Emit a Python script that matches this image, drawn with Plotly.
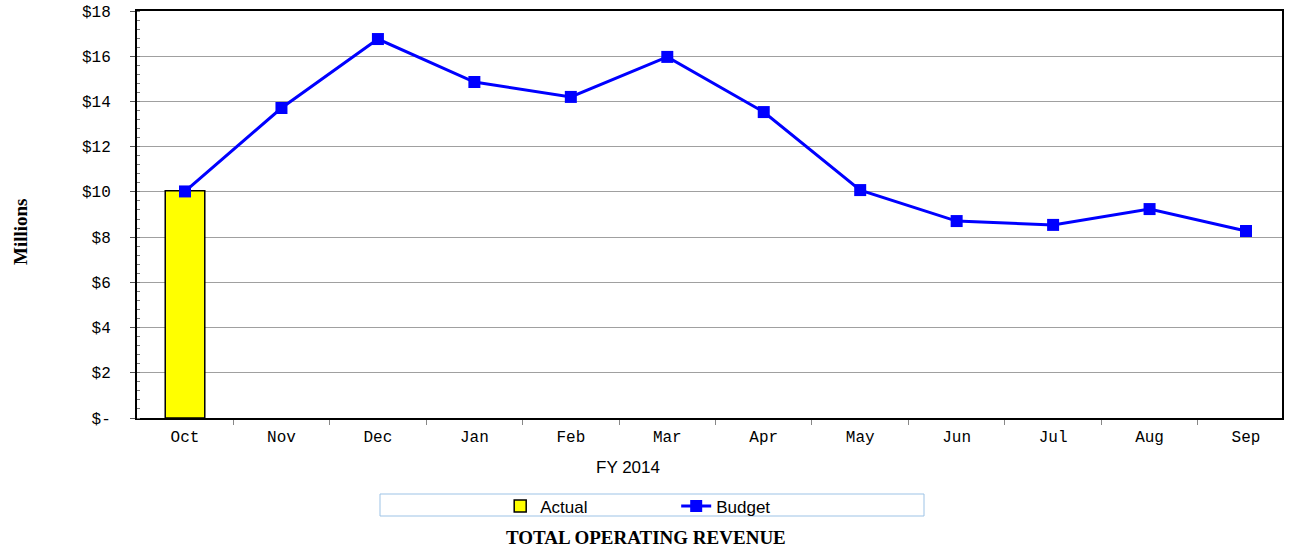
import plotly.graph_objects as go

months = ["Oct", "Nov", "Dec", "Jan", "Feb", "Mar", "Apr", "May", "Jun", "Jul", "Aug", "Sep"]
actual = [10.05, None, None, None, None, None, None, None, None, None, None, None]
budget = [10.02, 13.71, 16.76, 14.86, 14.20, 15.97, 13.53, 10.08, 8.71, 8.54, 9.24, 8.27]
y_tickvals = [0, 2, 4, 6, 8, 10, 12, 14, 16, 18]
y_ticktext = ["$-", "$2", "$4", "$6", "$8", "$10", "$12", "$14", "$16", "$18"]

fig = go.Figure()
fig.add_trace(go.Bar(
    x=months, y=actual, name="Actual", width=0.41,
    marker=dict(color="#FFFF00", line=dict(color="#000000", width=1.5)),
))
fig.add_trace(go.Scatter(
    x=months, y=budget, name="Budget", mode="lines+markers",
    line=dict(color="#0000FF", width=3),
    marker=dict(symbol="square", size=12, color="#0000FF"),
))

mono = "Liberation Mono, Courier New, monospace"
fig.update_layout(
    width=1296, height=548,
    margin=dict(l=137, r=14, t=11, b=130, autoexpand=False),
    paper_bgcolor="white", plot_bgcolor="white",
    showlegend=True,
    legend=dict(
        orientation="h", x=0.3172, y=-0.173, xanchor="left", yanchor="top",
        font=dict(family="Liberation Sans, Arial", size=17, color="#000"),
        entrywidth=131, bgcolor="rgba(0,0,0,0)", borderwidth=0,
        itemwidth=30,
    ),
    xaxis=dict(
        type="category", tickson="boundaries", ticks="outside", ticklen=5,
        tickcolor="#888", showgrid=False, automargin=False,
        showline=True, linecolor="#000", linewidth=2, mirror=True,
        tickfont=dict(family=mono, size=16, color="#000"),
        ticklabelstandoff=3,
        range=[-0.4977, 11.373],
    ),
    yaxis=dict(
        range=[0, 18], tickvals=y_tickvals, ticktext=y_ticktext,
        ticks="outside", ticklen=5, tickcolor="#555", automargin=False,
        showgrid=True, gridcolor="#A0A0A0", gridwidth=1,
        showline=True, linecolor="#000", linewidth=2, mirror=True,
        zeroline=False,
        tickfont=dict(family=mono, size=16, color="#000"),
        ticklabelstandoff=16,
        minor=dict(dtick=0.4, tick0=0, ticks="inside", ticklen=3, tickcolor="#777", showgrid=False),
    ),
    shapes=[dict(
        type="rect", xref="paper", yref="paper",
        x0=(380 - 137) / 1145, x1=(924 - 137) / 1145,
        y0=(418 - 494) / 407, y1=(418 - 516) / 407,
        line=dict(color="#9DC3E6", width=1), fillcolor="rgba(0,0,0,0)",
    )],
    annotations=[
        dict(text="FY 2014", xref="paper", yref="paper",
             x=(628 - 137) / 1145, y=(418 - 467) / 407, xanchor="center", yanchor="middle",
             showarrow=False, font=dict(family="Liberation Sans, Arial", size=17, color="#000")),
        dict(text="<b>TOTAL OPERATING REVENUE</b>", xref="paper", yref="paper",
             x=(646 - 137) / 1145, y=(418 - 537) / 407, xanchor="center", yanchor="middle",
             showarrow=False, font=dict(family="Liberation Serif, Times New Roman", size=19, color="#000")),
        dict(text="<b>Millions</b>", xref="paper", yref="paper",
             x=(20 - 137) / 1145, y=(418 - 232) / 407, xanchor="center", yanchor="middle",
             textangle=-90, showarrow=False,
             font=dict(family="Liberation Serif, Times New Roman", size=19, color="#000")),
    ],
)

fig.write_html("out.html", config={"displayModeBar": False},
               post_script="document.body.style.margin='0';")
